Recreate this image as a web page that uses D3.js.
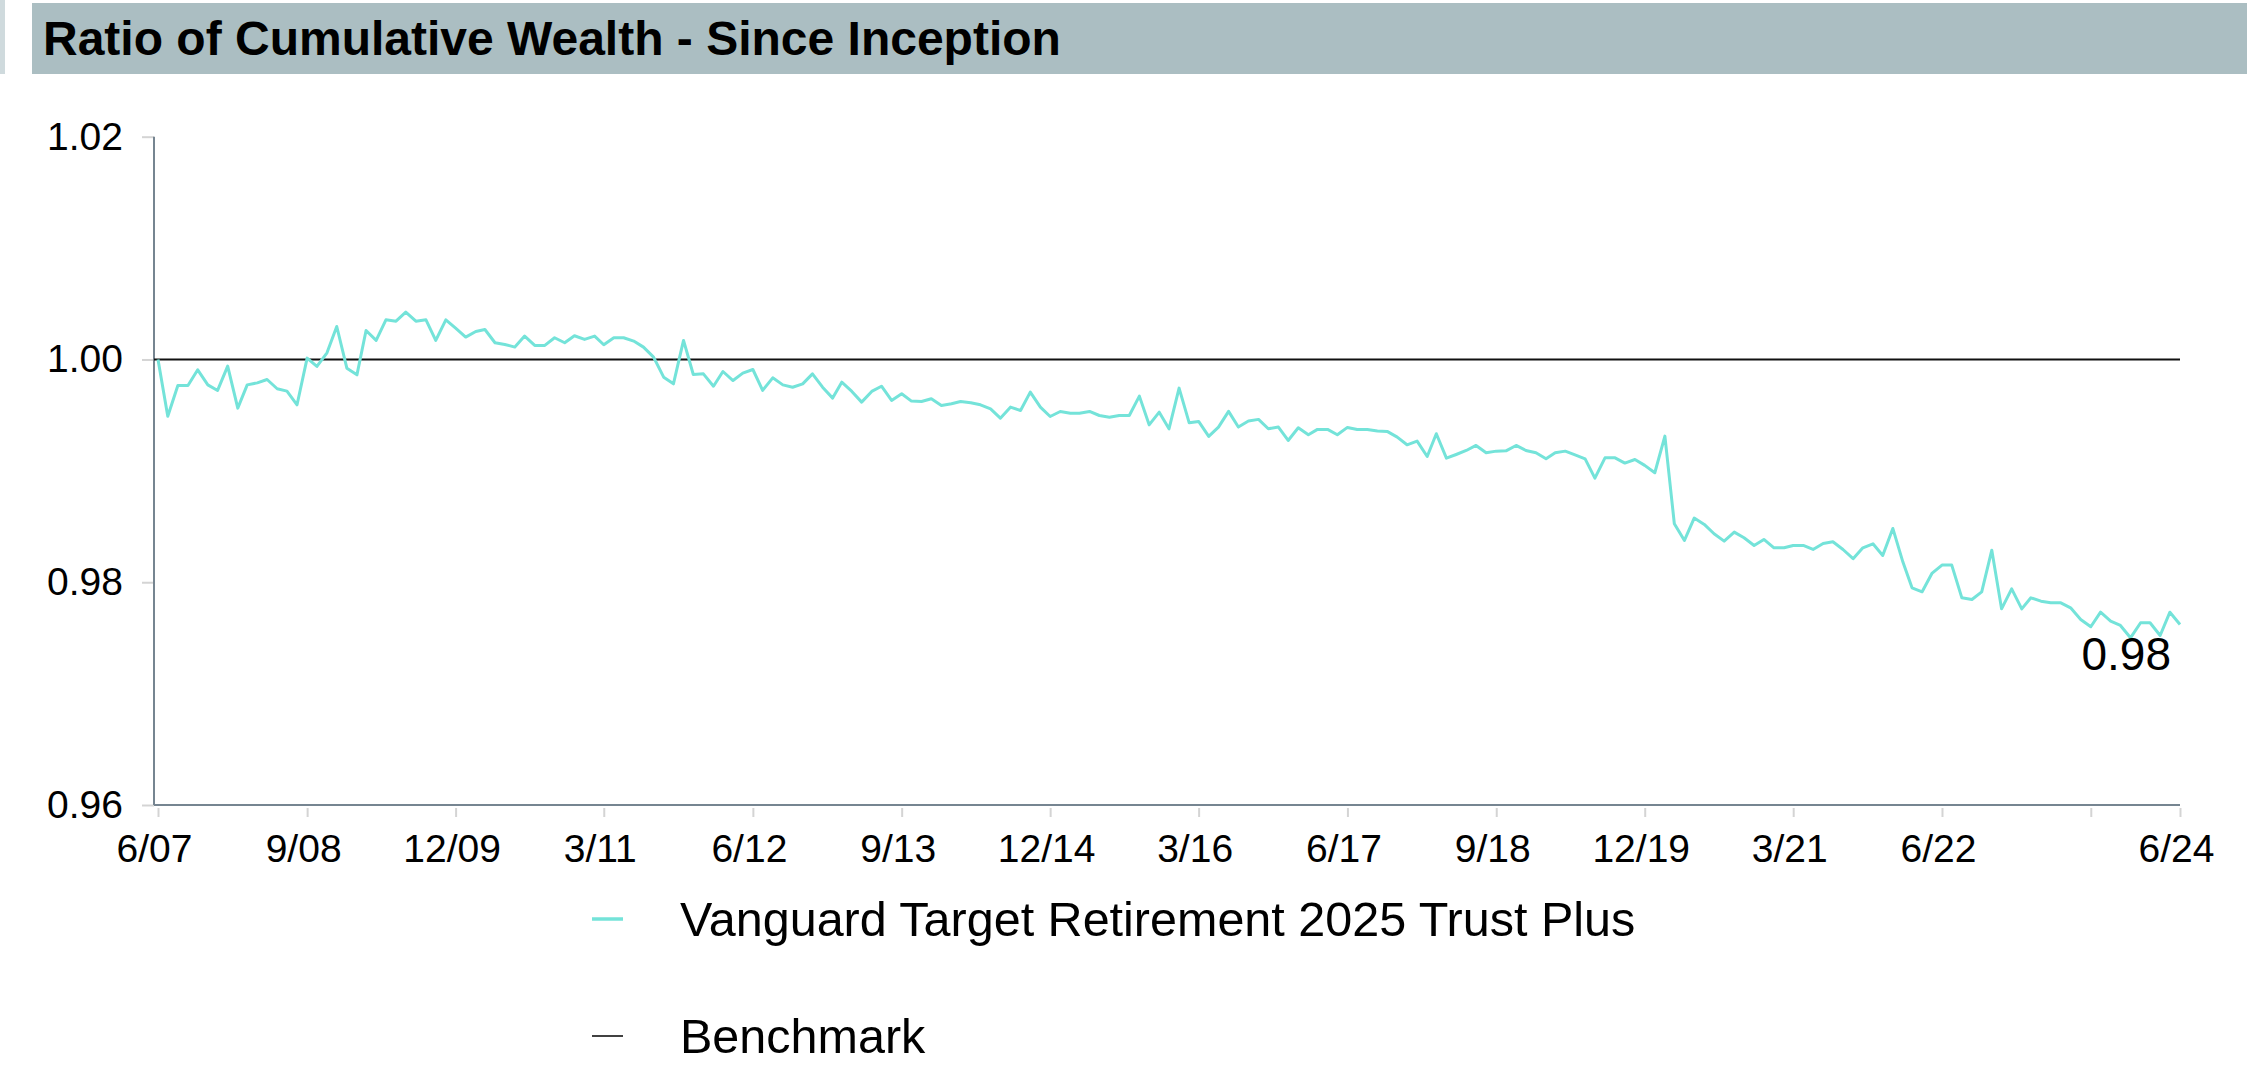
<!DOCTYPE html>
<html>
<head>
<meta charset="utf-8">
<title>Ratio of Cumulative Wealth</title>
<script src="https://cdn.jsdelivr.net/npm/d3@7"></script>
<style>
  body { margin:0; background:#fff; font-family:"Liberation Sans", Arial, Helvetica, sans-serif; }
  svg { display:block; }
</style>
</head>
<body>
<script>
// monthly ratio of cumulative wealth, 6/07 .. 6/24
var startMonth = new Date(2007, 5, 1);
var ratio = [
  1.0000, 0.99491, 0.99766, 0.99766, 0.99907, 0.99772, 0.99722, 0.99940, 0.99563, 0.99772,
  0.99790, 0.99820, 0.99737, 0.99716, 0.99593, 1.00012, 0.99937, 1.00060, 1.00296, 0.99922,
  0.99862, 1.00260, 1.00171, 1.00356, 1.00344, 1.00425, 1.00344, 1.00356, 1.00171, 1.00356,
  1.00281, 1.00201, 1.00251, 1.00269, 1.00150, 1.00135, 1.00111, 1.00210, 1.00126, 1.00126,
  1.00195, 1.00150, 1.00213, 1.00180, 1.00210, 1.00132, 1.00195, 1.00195, 1.00165, 1.00111,
  1.00021, 0.99841, 0.99781, 1.00171, 0.99865, 0.99871, 0.99760, 0.99892, 0.99811, 0.99877,
  0.99910, 0.99722, 0.99835, 0.99772, 0.99751, 0.99781, 0.99871, 0.99751, 0.99653, 0.99796,
  0.99713, 0.99617, 0.99713, 0.99760, 0.99632, 0.99692, 0.99626, 0.99623, 0.99647, 0.99587,
  0.99602, 0.99623, 0.99611, 0.99593, 0.99557, 0.99473, 0.99572, 0.99542, 0.99707, 0.99572,
  0.99488, 0.99533, 0.99518, 0.99518, 0.99533, 0.99497, 0.99482, 0.99497, 0.99497, 0.99671,
  0.99413, 0.99527, 0.99377, 0.99743, 0.99431, 0.99444, 0.99309, 0.99393, 0.99534, 0.99393,
  0.99447, 0.99462, 0.99378, 0.99393, 0.99273, 0.99387, 0.99324, 0.99372, 0.99372, 0.99324,
  0.99390, 0.99372, 0.99372, 0.99357, 0.99354, 0.99303, 0.99234, 0.99267, 0.99129, 0.99333,
  0.99114, 0.99147, 0.99183, 0.99228, 0.99162, 0.99177, 0.99180, 0.99228, 0.99183, 0.99162,
  0.99108, 0.99162, 0.99177, 0.99144, 0.99108, 0.98935, 0.99117, 0.99117, 0.99070, 0.99102,
  0.99049, 0.98983, 0.99312, 0.98525, 0.98375, 0.98576, 0.98519, 0.98435, 0.98369, 0.98450,
  0.98399, 0.98330, 0.98384, 0.98309, 0.98309, 0.98330, 0.98330, 0.98294, 0.98348, 0.98363,
  0.98294, 0.98211, 0.98309, 0.98345, 0.98240, 0.98483, 0.98181, 0.97950, 0.97914, 0.98079,
  0.98154, 0.98154, 0.97860, 0.97845, 0.97914, 0.98288, 0.97761, 0.97941, 0.97761, 0.97860,
  0.97830, 0.97815, 0.97815, 0.97770, 0.97666, 0.97600, 0.97731, 0.97651, 0.97612, 0.97501,
  0.97636, 0.97636, 0.97522, 0.97731, 0.97621
];
var benchmark = 1.00;

var yTicks = [0.96, 0.98, 1.00, 1.02];
var xTickDates = ["2007-06","2008-09","2009-12","2011-03","2012-06","2013-09","2014-12",
                  "2016-03","2017-06","2018-09","2019-12","2021-03","2022-06","2023-09","2024-06"];
var xTickLabels = ["6/07","9/08","12/09","3/11","6/12","9/13","12/14",
                   "3/16","6/17","9/18","12/19","3/21","6/22","","6/24"];

var seriesNames = ["Vanguard Target Retirement 2025 Trust Plus", "Benchmark"];
var seriesColors = ["#74e3d9", "#111111"];

var W = 2254, H = 1068;
var parseMonth = d3.timeParse("%Y-%m");

var data = ratio.map(function (v, i) {
  return { date: d3.timeMonth.offset(startMonth, i), value: v };
});

var svg = d3.select("body").append("svg")
  .attr("width", W)
  .attr("height", H);

// title bar
svg.append("rect").attr("x", 0).attr("y", 0).attr("width", 5).attr("height", 74).attr("fill", "#cfdadd");
svg.append("rect").attr("x", 32).attr("y", 3).attr("width", 2215).attr("height", 71).attr("fill", "#abbec2");
svg.append("text")
  .attr("x", 43).attr("y", 55)
  .attr("font-size", 48).attr("font-weight", "bold").attr("fill", "#000")
  .text("Ratio of Cumulative Wealth - Since Inception");

var x = d3.scaleTime()
  .domain([startMonth, data[data.length - 1].date])
  .range([158, 2180]);

var y = d3.scaleLinear()
  .domain([0.96, 1.02])
  .range([805, 136.7]);

var axisLeft = 154;

// y axis
var gy = svg.append("g")
  .attr("transform", "translate(" + axisLeft + ",0)")
  .call(d3.axisLeft(y).tickValues(yTicks).tickFormat(d3.format(".2f")).tickSizeOuter(0).tickSize(12).tickPadding(19));
gy.select(".domain").remove();
gy.selectAll(".tick line").attr("stroke", "#d4d4d4").attr("stroke-width", 2);
gy.selectAll(".tick text").attr("font-size", 39).attr("fill", "#000")
  .attr("font-family", "'Liberation Sans', Arial, sans-serif");

// x axis
var gx = svg.append("g")
  .attr("transform", "translate(0,808)")
  .call(d3.axisBottom(x)
    .tickValues(xTickDates.map(parseMonth))
    .tickFormat(function (d, i) { return xTickLabels[i]; })
    .tickSizeOuter(0).tickSize(9).tickPadding(17));
gx.select(".domain").remove();
gx.selectAll(".tick line").attr("stroke", "#d4d4d4").attr("stroke-width", 2);
gx.selectAll(".tick text").attr("font-size", 39).attr("fill", "#000").attr("dx", -4)
  .attr("font-family", "'Liberation Sans', Arial, sans-serif");

// axis lines
svg.append("line")
  .attr("x1", axisLeft).attr("x2", axisLeft)
  .attr("y1", y(1.02)).attr("y2", y(0.96))
  .attr("stroke", "#768591").attr("stroke-width", 2);
svg.append("line")
  .attr("x1", axisLeft).attr("x2", x.range()[1])
  .attr("y1", y(0.96)).attr("y2", y(0.96))
  .attr("stroke", "#768591").attr("stroke-width", 2);

// benchmark
svg.append("line")
  .attr("x1", axisLeft).attr("x2", x.range()[1])
  .attr("y1", y(benchmark)).attr("y2", y(benchmark))
  .attr("stroke", seriesColors[1]).attr("stroke-width", 2);

// fund line
var line = d3.line()
  .x(function (d) { return x(d.date); })
  .y(function (d) { return y(d.value); });

svg.append("path")
  .datum(data)
  .attr("fill", "none")
  .attr("stroke", seriesColors[0])
  .attr("stroke-width", 3)
  .attr("stroke-linejoin", "round")
  .attr("d", line);

// end label
var last = data[data.length - 1];
svg.append("text")
  .attr("x", x(last.date) - 9)
  .attr("y", y(last.value) + 46)
  .attr("text-anchor", "end")
  .attr("font-size", 46).attr("fill", "#000")
  .text(d3.format(".2f")(last.value));

// legend
var legend = svg.selectAll(".legend")
  .data(seriesNames)
  .enter().append("g")
  .attr("class", "legend")
  .attr("transform", function (d, i) { return "translate(592," + (919 + i * 117) + ")"; });

legend.append("line")
  .attr("x1", 0).attr("x2", 31)
  .attr("stroke", function (d, i) { return seriesColors[i]; })
  .attr("stroke-width", function (d, i) { return i == 0 ? 3.5 : 1.6; });

legend.append("text")
  .attr("x", 88).attr("y", 17)
  .attr("font-size", 48.5).attr("fill", "#000")
  .text(function (d) { return d; });
</script>
</body>
</html>
